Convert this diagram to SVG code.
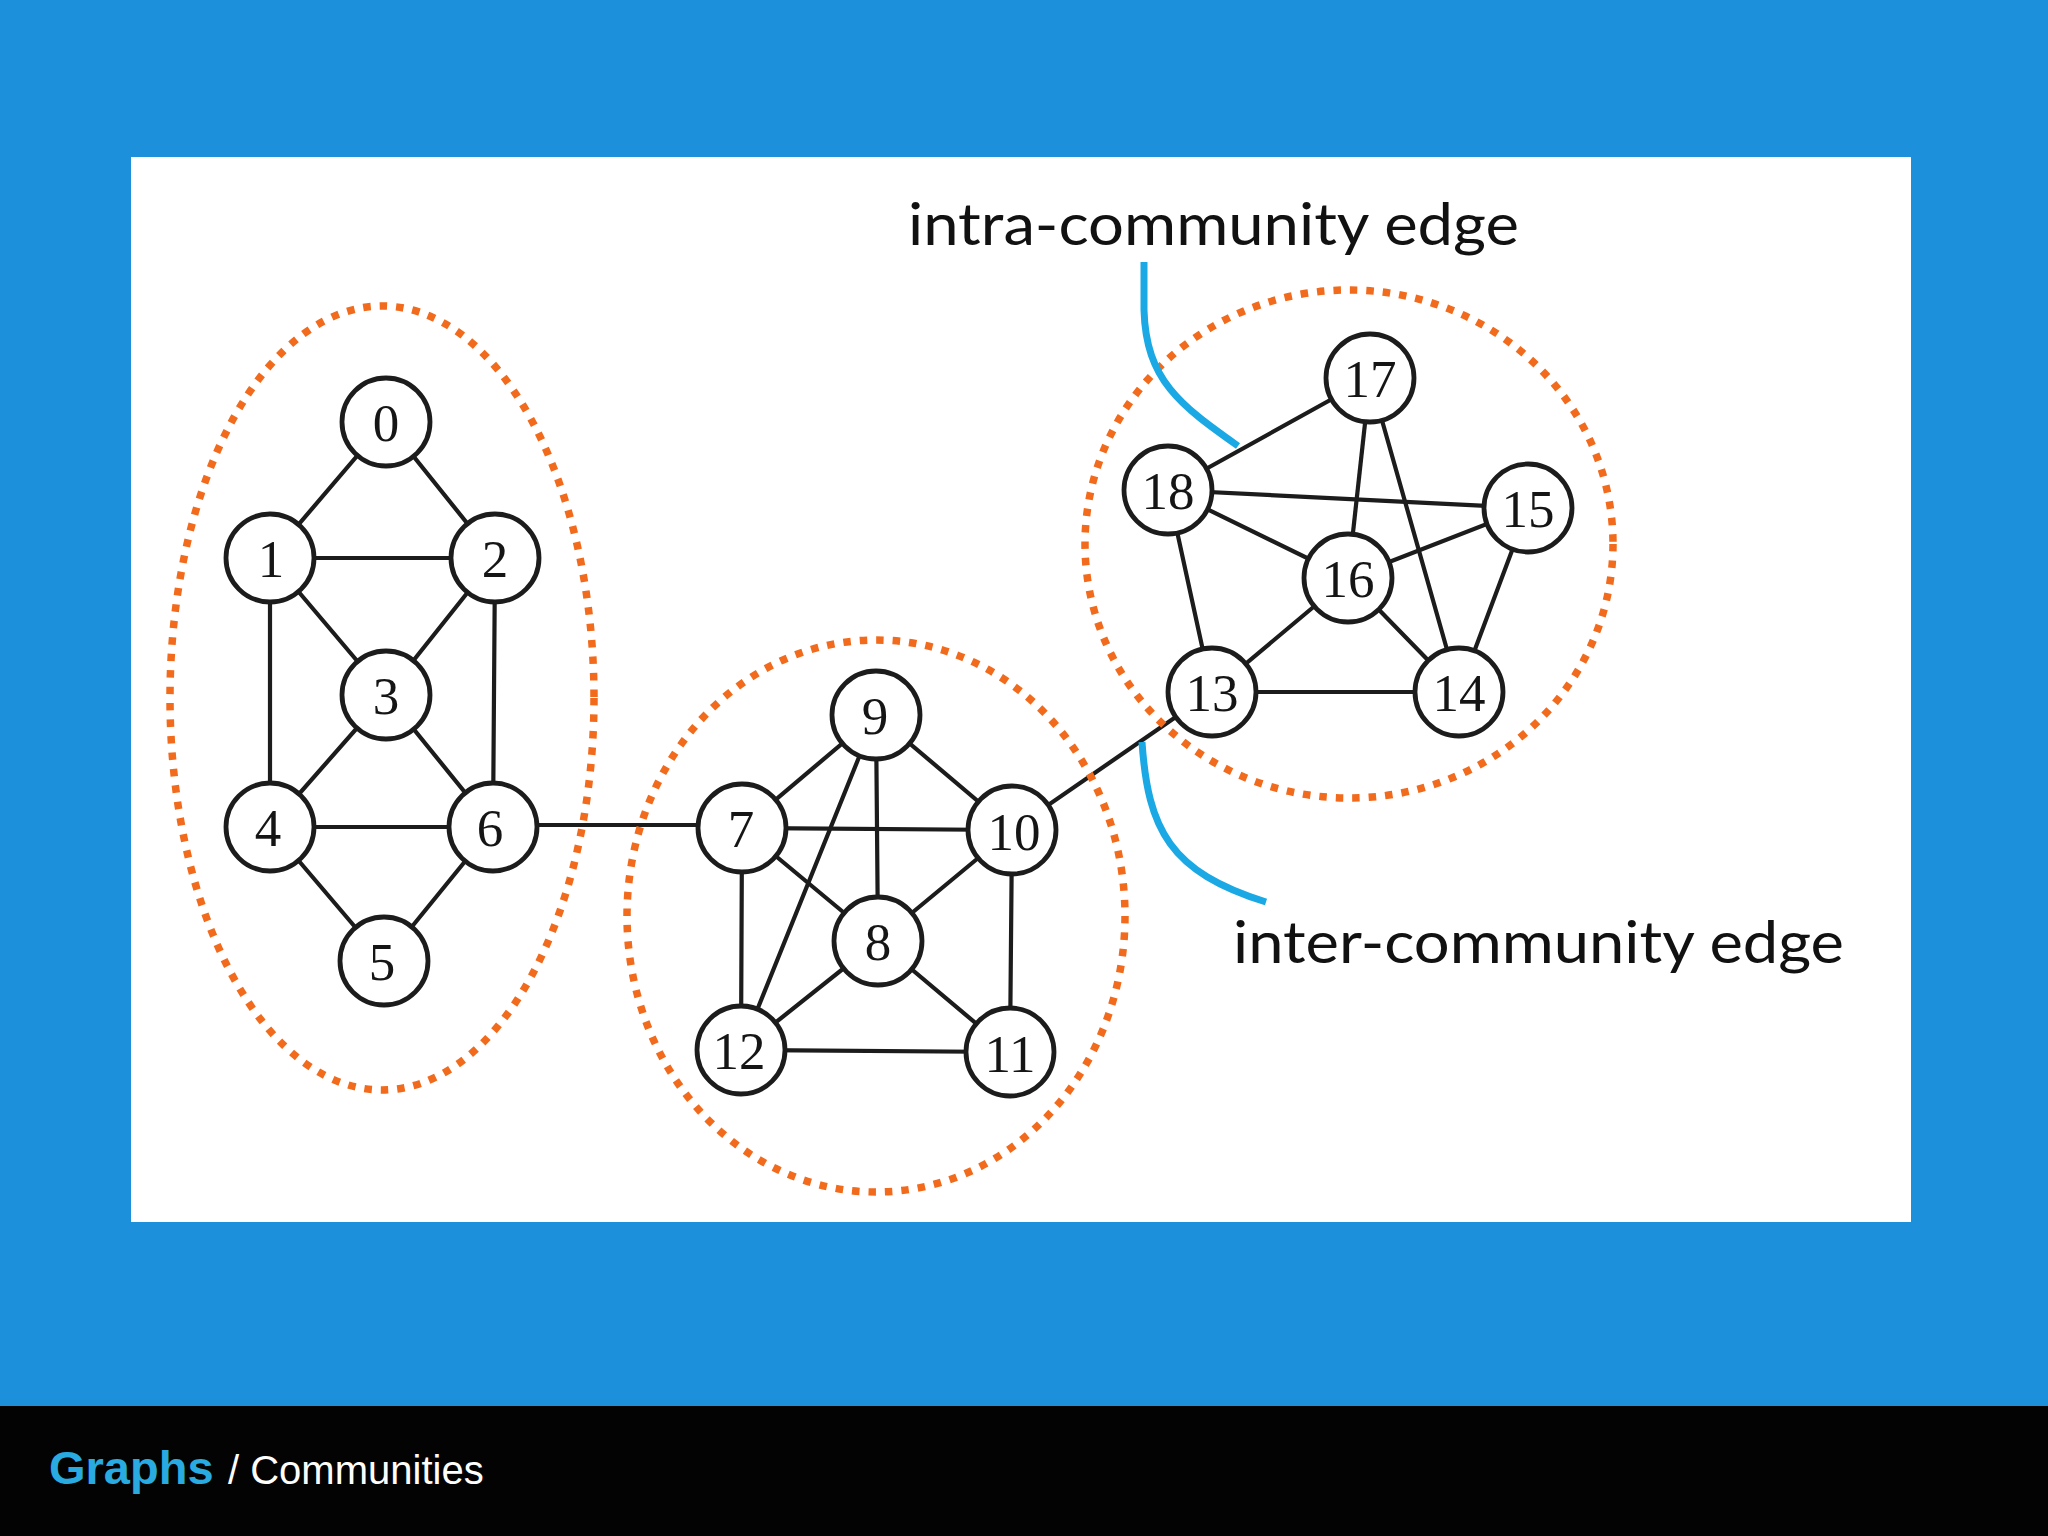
<svg xmlns="http://www.w3.org/2000/svg" width="2048" height="1536" viewBox="0 0 2048 1536">
<defs>
<style>
.edge{stroke:#1c1c1c;stroke-width:4.2;fill:none;stroke-linecap:round}
.node circle{fill:#fff;stroke:#1c1c1c;stroke-width:4.8}
.node text{font-family:"Liberation Serif","Times New Roman",serif;font-size:53px;fill:#151515;text-anchor:middle}
.comm{fill:none;stroke:#f26a1b;stroke-width:7.5;stroke-dasharray:7.5 9}
.pointer{fill:none;stroke:#1aa9e4;stroke-width:7;stroke-linecap:butt}
.note{font-family:Lato,"Open Sans","Liberation Sans",sans-serif;font-size:58px;fill:#111}
</style>
</defs>
<rect x="0" y="0" width="2048" height="1536" fill="#1d90db"/>
<rect x="131" y="157" width="1780" height="1065" fill="#ffffff"/>

<g id="connectors">
<line class="edge" x1="386" y1="422" x2="270" y2="558"/>
<line class="edge" x1="386" y1="422" x2="495" y2="558"/>
<line class="edge" x1="270" y1="558" x2="495" y2="558"/>
<line class="edge" x1="270" y1="558" x2="386" y2="695"/>
<line class="edge" x1="495" y1="558" x2="386" y2="695"/>
<line class="edge" x1="270" y1="558" x2="270" y2="827"/>
<line class="edge" x1="495" y1="558" x2="493" y2="827"/>
<line class="edge" x1="386" y1="695" x2="270" y2="827"/>
<line class="edge" x1="386" y1="695" x2="493" y2="827"/>
<line class="edge" x1="270" y1="827" x2="493" y2="827"/>
<line class="edge" x1="270" y1="827" x2="384" y2="961"/>
<line class="edge" x1="493" y1="827" x2="384" y2="961"/>
<line class="edge" x1="493" y1="825" x2="742" y2="825"/>
<line class="edge" x1="876" y1="715" x2="742" y2="828"/>
<line class="edge" x1="876" y1="715" x2="1012" y2="830"/>
<line class="edge" x1="876" y1="715" x2="878" y2="941"/>
<line class="edge" x1="876" y1="715" x2="741" y2="1050"/>
<line class="edge" x1="742" y1="828" x2="1012" y2="830"/>
<line class="edge" x1="742" y1="828" x2="878" y2="941"/>
<line class="edge" x1="742" y1="828" x2="741" y2="1050"/>
<line class="edge" x1="1012" y1="830" x2="878" y2="941"/>
<line class="edge" x1="1012" y1="830" x2="1010" y2="1052"/>
<line class="edge" x1="878" y1="941" x2="741" y2="1050"/>
<line class="edge" x1="878" y1="941" x2="1010" y2="1052"/>
<line class="edge" x1="741" y1="1050" x2="1010" y2="1052"/>
<line class="edge" x1="1012" y1="830" x2="1212" y2="692"/>
<line class="edge" x1="1168" y1="490" x2="1370" y2="378"/>
<line class="edge" x1="1370" y1="378" x2="1348" y2="578"/>
<line class="edge" x1="1370" y1="378" x2="1459" y2="692"/>
<line class="edge" x1="1168" y1="490" x2="1528" y2="508"/>
<line class="edge" x1="1168" y1="490" x2="1348" y2="578"/>
<line class="edge" x1="1168" y1="490" x2="1212" y2="692"/>
<line class="edge" x1="1348" y1="578" x2="1528" y2="508"/>
<line class="edge" x1="1528" y1="508" x2="1459" y2="692"/>
<line class="edge" x1="1348" y1="578" x2="1212" y2="692"/>
<line class="edge" x1="1348" y1="578" x2="1459" y2="692"/>
<line class="edge" x1="1212" y1="692" x2="1459" y2="692"/>
</g>

<g id="communities">
<ellipse class="comm" cx="382" cy="698" rx="212" ry="392"/>
<ellipse class="comm" cx="876" cy="916" rx="249" ry="276"/>
<ellipse class="comm" cx="1349" cy="544" rx="264" ry="254"/>
</g>

<g id="node-0" class="node"><circle cx="386" cy="422" r="44"/><text x="386" y="441">0</text></g>
<g id="node-1" class="node"><circle cx="270" cy="558" r="44"/><text x="271" y="577">1</text></g>
<g id="node-2" class="node"><circle cx="495" cy="558" r="44"/><text x="495" y="577">2</text></g>
<g id="node-3" class="node"><circle cx="386" cy="695" r="44"/><text x="386" y="714">3</text></g>
<g id="node-4" class="node"><circle cx="270" cy="827" r="44"/><text x="268" y="846">4</text></g>
<g id="node-5" class="node"><circle cx="384" cy="961" r="44"/><text x="382" y="980">5</text></g>
<g id="node-6" class="node"><circle cx="493" cy="827" r="44"/><text x="490" y="846">6</text></g>
<g id="node-7" class="node"><circle cx="742" cy="828" r="44"/><text x="741" y="847">7</text></g>
<g id="node-8" class="node"><circle cx="878" cy="941" r="44"/><text x="878" y="960">8</text></g>
<g id="node-9" class="node"><circle cx="876" cy="715" r="44"/><text x="875" y="734">9</text></g>
<g id="node-10" class="node"><circle cx="1012" cy="830" r="44"/><text x="1014" y="850">10</text></g>
<g id="node-11" class="node"><circle cx="1010" cy="1052" r="44"/><text x="1010" y="1072">11</text></g>
<g id="node-12" class="node"><circle cx="741" cy="1050" r="44"/><text x="739" y="1069">12</text></g>
<g id="node-13" class="node"><circle cx="1212" cy="692" r="44"/><text x="1212" y="711">13</text></g>
<g id="node-14" class="node"><circle cx="1459" cy="692" r="44"/><text x="1459" y="711">14</text></g>
<g id="node-15" class="node"><circle cx="1528" cy="508" r="44"/><text x="1528" y="527">15</text></g>
<g id="node-16" class="node"><circle cx="1348" cy="578" r="44"/><text x="1348" y="597">16</text></g>
<g id="node-17" class="node"><circle cx="1370" cy="378" r="44"/><text x="1370" y="397">17</text></g>
<g id="node-18" class="node"><circle cx="1168" cy="490" r="44"/><text x="1168" y="509">18</text></g>

<g id="annotations">
<path class="pointer" d="M1144,262 L1144,310 C1146,380 1180,405 1238,446"/>
<path class="pointer" d="M1142,742 C1148,830 1170,872 1266,902"/>
<text class="note" x="908" y="245" textLength="611" lengthAdjust="spacingAndGlyphs">intra-community edge</text>
<text class="note" x="1233" y="963" textLength="611" lengthAdjust="spacingAndGlyphs">inter-community edge</text>
</g>

<rect x="0" y="1406" width="2048" height="130" fill="#030303"/>
<text x="49" y="1484" font-family="Liberation Sans, Arial, sans-serif" font-size="47" font-weight="bold" fill="#29abe2">Graphs</text>
<text x="228" y="1484" font-family="Liberation Sans, Arial, sans-serif" font-size="40" fill="#ffffff">/ Communities</text>
</svg>
